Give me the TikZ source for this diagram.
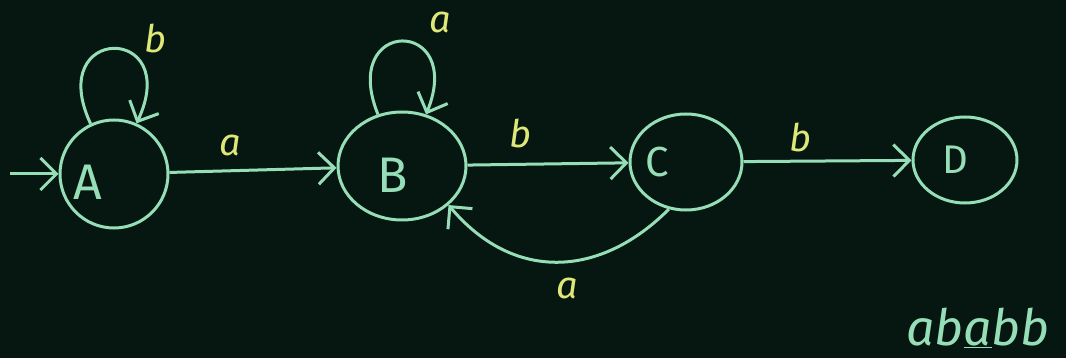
\documentclass[tikz,border=0pt]{standalone}
\usepackage{fontspec}
\setmainfont{Fira Sans}
\usetikzlibrary{shapes.geometric,arrows.meta}
\definecolor{board}{RGB}{6,22,16}
\definecolor{chalk}{RGB}{150,222,184}
\definecolor{chalkyellow}{RGB}{222,232,120}
\tikzset{
  state/.style={draw=chalk,ellipse,line width=3pt,inner sep=0pt},
  trans/.style={draw=chalk,line width=3pt,-{Straight Barb[length=16pt,width=32pt]}},
  sym/.style={text=chalkyellow,font=\fontsize{38}{40}\selectfont\itshape},
  lbl/.style={text=chalk,font=\fontsize{50}{54}\selectfont}
}

\begin{document}
\begin{tikzpicture}[x=1pt,y=-1pt]
% Board
\fill[board] (0,0) rectangle (1066,358);
% States
\node[state,minimum width=108pt,minimum height=108pt,label={[lbl,xshift=-26pt,yshift=-8pt]center:A}] (A) at (114,174) {};
\node[state,minimum width=128pt,minimum height=108pt,label={[lbl,xshift=-9pt,yshift=-9pt]center:B}] (B) at (402,166) {};
\node[state,minimum width=112pt,minimum height=96pt,label={[lbl,xshift=-29pt,font=\fontsize{42}{46}\selectfont]center:C}] (C) at (686,162) {};
\node[state,minimum width=104pt,minimum height=86pt,label={[lbl,xshift=-10pt,font=\fontsize{40}{44}\selectfont]center:D}] (D) at (965,160) {};
\coordinate (start) at (10,174);
% Transitions
\draw[trans] (start) -- (A);
\draw[trans] (A) -- (B);
\draw[trans] (B) -- (C);
\draw[trans] (C) -- (D);
\draw[trans] (A.115) to[out=115,in=65,distance=110pt] (A.66); % loop on A
\draw[trans] (B.115) to[out=112,in=68,distance=105pt] (B.65); % loop on B
\draw[trans] (C.250) to[out=225,in=-50,looseness=1.15] (B.-40); % back to B
% Labels
\node[sym] (lAA) at (155,38) {b};
\node[sym] (lAB) at (230,145) {a};
\node[sym] (lBB) at (440,22) {a};
\node[sym] (lBC) at (520,133) {b};
\node[sym] (lCB) at (567,288) {a};
\node[sym] (lCD) at (800,137) {b};
% Input
\node[text=chalk,font=\fontsize{50}{54}\selectfont\itshape] (word) at (978,328) {ab\underline{a}bb};
\end{tikzpicture}
\end{document}
